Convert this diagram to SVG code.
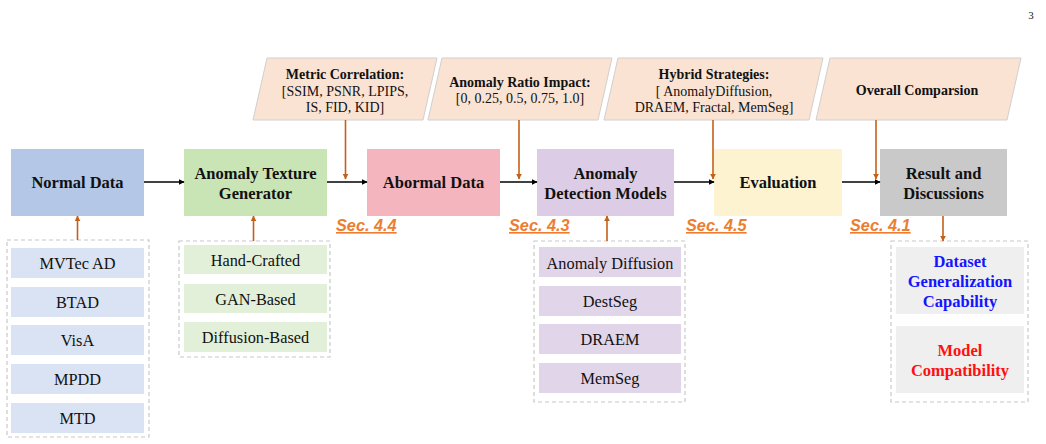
<svg xmlns="http://www.w3.org/2000/svg" width="1046" height="444" viewBox="0 0 1046 444">
  <style>
    .main text { font-family: "Liberation Serif", "Times New Roman", serif; font-weight: bold; font-size: 16.5px; fill: #111; text-anchor: middle; dominant-baseline: central; }
    .item text { font-family: "Liberation Serif", "Times New Roman", serif; font-size: 16.3px; fill: #111; text-anchor: middle; dominant-baseline: central; }
    .para polygon { fill: #FBE3D4; stroke: #CFCFCF; stroke-width: 1; }
    .para text { font-family: "Liberation Serif", "Times New Roman", serif; font-size: 14px; fill: #111; text-anchor: middle; dominant-baseline: central; }
    .para .hd { font-weight: bold; }
    .group { fill: none; stroke: #C8C8C8; stroke-width: 1.2; stroke-dasharray: 4 3; }
    .sec { font-family: "Liberation Sans", Arial, sans-serif; font-weight: bold; font-style: italic; font-size: 16.3px; fill: #ED7D31; text-decoration: underline; }
    .flow { stroke: #000; stroke-width: 1.6; fill: none; marker-end: url(#ah-black); }
    .feed { stroke: #C5601A; stroke-width: 1.6; fill: none; marker-end: url(#ah-orange); }
  </style>
  <defs>
    <marker id="ah-black" viewBox="0 0 10 10" refX="9" refY="5" markerWidth="6" markerHeight="6" orient="auto" markerUnits="userSpaceOnUse">
      <path d="M0,0 L10,5 L0,10 z" fill="#000"/>
    </marker>
    <marker id="ah-orange" viewBox="0 0 10 10" refX="9" refY="5" markerWidth="6" markerHeight="6" orient="auto" markerUnits="userSpaceOnUse">
      <path d="M0,0 L10,5 L0,10 z" fill="#C5601A"/>
    </marker>
  </defs>

  <rect width="1046" height="444" fill="#fff"/>
  <text x="1031" y="15" font-family="Liberation Serif, serif" font-size="11" fill="#222" text-anchor="middle" dominant-baseline="central">3</text>

  <!-- experiment settings (parallelograms) -->
  <g id="metric-correlation" class="para">
    <polygon points="267,58 437,58 423,120 253,120"/>
    <text x="345" y="74" class="hd">Metric Correlation:</text>
    <text x="345" y="91">[SSIM, PSNR, LPIPS,</text>
    <text x="345" y="107">IS, FID, KID]</text>
  </g>
  <g id="anomaly-ratio" class="para">
    <polygon points="442,58 612,58 598,120 428,120"/>
    <text x="520" y="82" class="hd">Anomaly Ratio Impact:</text>
    <text x="520" y="98">[0, 0.25, 0.5,  0.75,  1.0]</text>
  </g>
  <g id="hybrid-strategies" class="para">
    <polygon points="618,58 823,58 809,120 604,120"/>
    <text x="714" y="74" class="hd">Hybrid Strategies:</text>
    <text x="714" y="91">[ AnomalyDiffusion,</text>
    <text x="714" y="107">DRAEM, Fractal, MemSeg]</text>
  </g>
  <g id="overall-comparison" class="para">
    <polygon points="830,58 1021,58 1007,120 816,120"/>
    <text x="917" y="90" class="hd">Overall Comparsion</text>
  </g>

  <!-- pipeline stages -->
  <g id="normal-data" class="main">
    <rect x="11" y="149" width="133" height="67" fill="#B4C7E7"/>
    <text x="77.5" y="182.5">Normal Data</text>
  </g>
  <g id="texture-generator" class="main">
    <rect x="184" y="149" width="143" height="67" fill="#C9E5B5"/>
    <text x="255.5" y="173">Anomaly Texture</text>
    <text x="255.5" y="193">Generator</text>
  </g>
  <g id="abnormal-data" class="main">
    <rect x="367" y="149" width="133" height="67" fill="#F4B5BE"/>
    <text x="433.5" y="182.5">Abormal Data</text>
  </g>
  <g id="detection-models" class="main">
    <rect x="537" y="149" width="137" height="67" fill="#DCCCE6"/>
    <text x="605.5" y="173">Anomaly</text>
    <text x="605.5" y="193">Detection Models</text>
  </g>
  <g id="evaluation" class="main">
    <rect x="714" y="149" width="128" height="67" fill="#FDF3D1"/>
    <text x="778" y="182.5">Evaluation</text>
  </g>
  <g id="results" class="main">
    <rect x="880" y="149" width="127" height="67" fill="#C9C9C9"/>
    <text x="943.5" y="173">Result and</text>
    <text x="943.5" y="193">Discussions</text>
  </g>

  <!-- section references -->
  <g id="section-labels">
    <text x="336" y="231" class="sec">Sec. 4.4</text>
    <text x="509" y="231" class="sec">Sec. 4.3</text>
    <text x="686" y="231" class="sec">Sec. 4.5</text>
    <text x="850" y="231" class="sec">Sec. 4.1</text>
  </g>

  <!-- datasets -->
  <g id="datasets" class="item">
    <rect x="7" y="240" width="142" height="197" class="group"/>
    <rect x="11" y="248" width="133" height="30" fill="#DAE3F3"/>
    <text x="77.5" y="263.5">MVTec AD</text>
    <rect x="11" y="287" width="133" height="30" fill="#DAE3F3"/>
    <text x="77.5" y="302.5">BTAD</text>
    <rect x="11" y="325" width="133" height="30" fill="#DAE3F3"/>
    <text x="77.5" y="340.5">VisA</text>
    <rect x="11" y="364" width="133" height="30" fill="#DAE3F3"/>
    <text x="77.5" y="379.5">MPDD</text>
    <rect x="11" y="403" width="133" height="30" fill="#DAE3F3"/>
    <text x="77.5" y="418.5">MTD</text>
  </g>

  <!-- texture generator families -->
  <g id="generator-types" class="item">
    <rect x="179" y="241" width="151" height="116" class="group"/>
    <rect x="184" y="245" width="143" height="29" fill="#E2F0D9"/>
    <text x="255.5" y="260">Hand-Crafted</text>
    <rect x="184" y="284" width="143" height="29" fill="#E2F0D9"/>
    <text x="255.5" y="299">GAN-Based</text>
    <rect x="184" y="322" width="143" height="30" fill="#E2F0D9"/>
    <text x="255.5" y="337.5">Diffusion-Based</text>
  </g>

  <!-- detection models -->
  <g id="model-list" class="item">
    <rect x="534" y="241" width="151" height="161" class="group"/>
    <rect x="539" y="247" width="142" height="30" fill="#E1D5EA"/>
    <text x="610" y="263">Anomaly Diffusion</text>
    <rect x="539" y="286" width="142" height="30" fill="#E1D5EA"/>
    <text x="610" y="301.5">DestSeg</text>
    <rect x="539" y="324" width="142" height="30" fill="#E1D5EA"/>
    <text x="610" y="339.5">DRAEM</text>
    <rect x="539" y="363" width="142" height="30" fill="#E1D5EA"/>
    <text x="610" y="378.5">MemSeg</text>
  </g>

  <!-- findings -->
  <g id="findings" class="main">
    <rect x="891" y="241" width="137" height="161" class="group"/>
    <rect x="896" y="247" width="128" height="67" fill="#EFEFEF"/>
    <text x="960" y="261" style="fill:#1414FF">Dataset</text>
    <text x="960" y="281" style="fill:#1414FF">Generalization</text>
    <text x="960" y="301" style="fill:#1414FF">Capability</text>
    <rect x="896" y="326" width="128" height="67" fill="#EFEFEF"/>
    <text x="960" y="350" style="fill:#FF1010">Model</text>
    <text x="960" y="370" style="fill:#FF1010">Compatibility</text>
  </g>

  <!-- connectors -->
  <g id="connectors">
    <line x1="144" y1="182" x2="184" y2="182" class="flow"/>
    <line x1="327" y1="182" x2="367" y2="182" class="flow"/>
    <line x1="500" y1="182" x2="537" y2="182" class="flow"/>
    <line x1="674" y1="182" x2="714" y2="182" class="flow"/>
    <line x1="842" y1="182" x2="880" y2="182" class="flow"/>

    <line x1="345.5" y1="120" x2="345.5" y2="179" class="feed"/>
    <line x1="519" y1="120" x2="519" y2="179" class="feed"/>
    <line x1="713" y1="120" x2="713" y2="179" class="feed"/>
    <line x1="876" y1="120" x2="876" y2="179" class="feed"/>

    <line x1="77.5" y1="240" x2="77.5" y2="216" class="feed"/>
    <line x1="253.5" y1="241" x2="253.5" y2="216" class="feed"/>
    <line x1="607" y1="241" x2="607" y2="216" class="feed"/>
    <line x1="943" y1="216" x2="943" y2="241" class="feed"/>
  </g>
</svg>
